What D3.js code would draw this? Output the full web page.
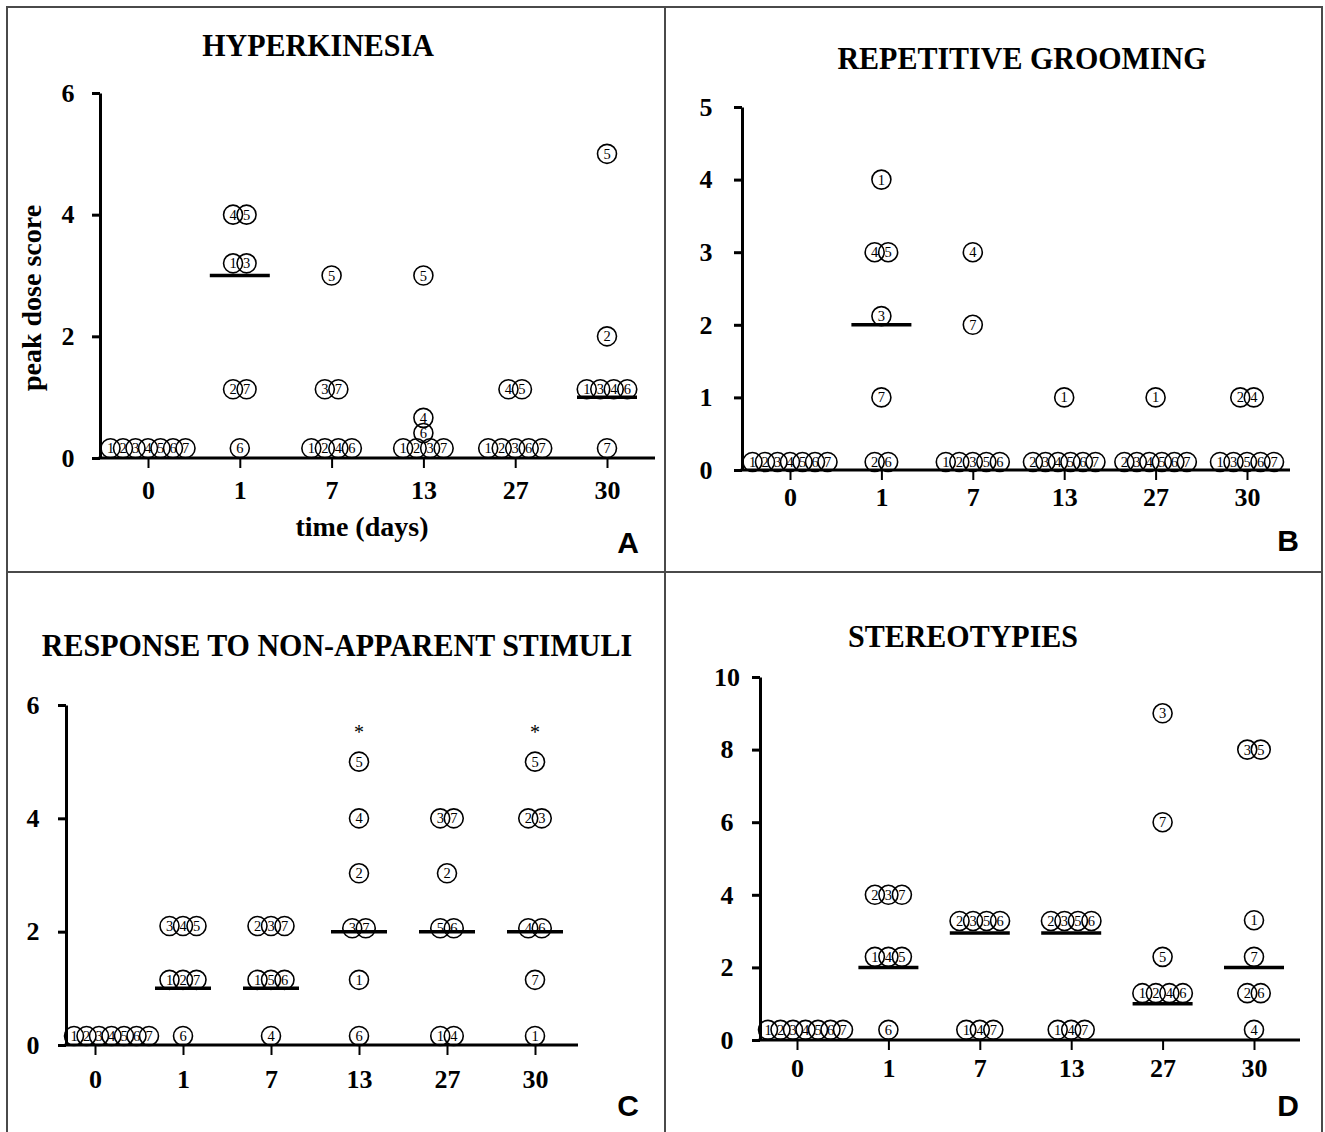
<!DOCTYPE html>
<html>
<head>
<meta charset="utf-8">
<script src="https://cdn.jsdelivr.net/npm/d3@7"></script>
<style>
  body { margin: 0; background: #fff; }
  svg { display: block; }
</style>
</head>
<body>
<svg width="1325" height="1132"></svg>
<script>
// days on the x axis, shared by all four panels
const days = ["0", "1", "7", "13", "27", "30"]

// circles: rat ids sitting at the same score, per day
const hyperPoints = [
  {day: "0", v: 0.16, ids: [1, 2, 3, 4, 5, 6, 7]},
  {day: "1", v: 4, ids: [4, 5]}, {day: "1", v: 3.2, ids: [1, 3]},
  {day: "1", v: 1.13, ids: [2, 7]}, {day: "1", v: 0.16, ids: [6]},
  {day: "7", v: 3, ids: [5]}, {day: "7", v: 1.13, ids: [3, 7]}, {day: "7", v: 0.16, ids: [1, 2, 4, 6]},
  {day: "13", v: 3, ids: [5]}, {day: "13", v: 0.66, ids: [4]}, {day: "13", v: 0.41, ids: [6]},
  {day: "13", v: 0.16, ids: [1, 2, 3, 7]},
  {day: "27", v: 1.13, ids: [4, 5]}, {day: "27", v: 0.16, ids: [1, 2, 3, 6, 7]},
  {day: "30", v: 5, ids: [5]}, {day: "30", v: 2, ids: [2]},
  {day: "30", v: 1.13, ids: [1, 3, 4, 6]}, {day: "30", v: 0.16, ids: [7]}
]
const hyperMedians = [{day: "1", v: 3}, {day: "30", v: 1}]

const groomPoints = [
  {day: "0", v: 0.11, ids: [1, 2, 3, 4, 5, 6, 7]},
  {day: "1", v: 4, ids: [1]}, {day: "1", v: 3, ids: [4, 5]}, {day: "1", v: 2.12, ids: [3]},
  {day: "1", v: 1, ids: [7]}, {day: "1", v: 0.11, ids: [2, 6]},
  {day: "7", v: 3, ids: [4]}, {day: "7", v: 2, ids: [7]}, {day: "7", v: 0.11, ids: [1, 2, 3, 5, 6]},
  {day: "13", v: 1, ids: [1]}, {day: "13", v: 0.11, ids: [2, 3, 4, 5, 6, 7]},
  {day: "27", v: 1, ids: [1]}, {day: "27", v: 0.11, ids: [2, 3, 4, 5, 6, 7]},
  {day: "30", v: 1, ids: [2, 4]}, {day: "30", v: 0.11, ids: [1, 3, 5, 6, 7]}
]
const groomMedians = [{day: "1", v: 2}]

const stimPoints = [
  {day: "0", v: 0.16, ids: [1, 2, 3, 4, 5, 6, 7]},
  {day: "1", v: 2.1, ids: [3, 4, 5]}, {day: "1", v: 1.15, ids: [1, 2, 7]}, {day: "1", v: 0.16, ids: [6]},
  {day: "7", v: 2.1, ids: [2, 3, 7]}, {day: "7", v: 1.15, ids: [1, 5, 6]}, {day: "7", v: 0.16, ids: [4]},
  {day: "13", v: 5, ids: [5]}, {day: "13", v: 4, ids: [4]}, {day: "13", v: 3.03, ids: [2]},
  {day: "13", v: 2.06, ids: [3, 7]}, {day: "13", v: 1.15, ids: [1]}, {day: "13", v: 0.16, ids: [6]},
  {day: "27", v: 4, ids: [3, 7]}, {day: "27", v: 3.03, ids: [2]}, {day: "27", v: 2.06, ids: [5, 6]},
  {day: "27", v: 0.16, ids: [1, 4]},
  {day: "30", v: 5, ids: [5]}, {day: "30", v: 4, ids: [2, 3]}, {day: "30", v: 2.06, ids: [4, 6]},
  {day: "30", v: 1.15, ids: [7]}, {day: "30", v: 0.16, ids: [1]}
]
const stimMedians = [{day: "1", v: 1}, {day: "7", v: 1}, {day: "13", v: 2}, {day: "27", v: 2}, {day: "30", v: 2}]
const stimStars = [{day: "13", v: 5.6}, {day: "30", v: 5.6}]

const stereoPoints = [
  {day: "0", v: 0.28, ids: [1, 2, 3, 4, 5, 6, 7]},
  {day: "1", v: 4, ids: [2, 3, 7]}, {day: "1", v: 2.29, ids: [1, 4, 5]}, {day: "1", v: 0.28, ids: [6]},
  {day: "7", v: 3.28, ids: [2, 3, 5, 6]}, {day: "7", v: 0.28, ids: [1, 4, 7]},
  {day: "13", v: 3.28, ids: [2, 3, 5, 6]}, {day: "13", v: 0.28, ids: [1, 4, 7]},
  {day: "27", v: 9, ids: [3]}, {day: "27", v: 6, ids: [7]}, {day: "27", v: 2.29, ids: [5]},
  {day: "27", v: 1.29, ids: [1, 2, 4, 6]},
  {day: "30", v: 8, ids: [3, 5]}, {day: "30", v: 3.3, ids: [1]}, {day: "30", v: 2.29, ids: [7]},
  {day: "30", v: 1.29, ids: [2, 6]}, {day: "30", v: 0.28, ids: [4]}
]
const stereoMedians = [{day: "1", v: 2}, {day: "7", v: 2.95}, {day: "13", v: 2.95}, {day: "27", v: 1}, {day: "30", v: 2}]

const serif = "'Liberation Serif', 'Times New Roman', serif"
const sans = "'Liberation Sans', Arial, sans-serif"

let svg = d3.select("svg")

// panel frame
svg.append("rect").attr("x", 7).attr("y", 7).attr("width", 1315).attr("height", 1140)
  .attr("fill", "none").attr("stroke", "#4a4a4a").attr("stroke-width", 2)
svg.append("line").attr("x1", 665).attr("x2", 665).attr("y1", 7).attr("y2", 1132)
  .attr("stroke", "#4a4a4a").attr("stroke-width", 2)
svg.append("line").attr("x1", 7).attr("x2", 1322).attr("y1", 572).attr("y2", 572)
  .attr("stroke", "#4a4a4a").attr("stroke-width", 2)

let r = 9.5

function panel(p) {
  let x = d3.scalePoint().domain(days).range([p.xFirst, p.xLast])
  let y = d3.scaleLinear().domain([0, p.yMax]).range([p.yBase, p.yTop])
  let g = svg.append("g")

  g.append("text")
    .attr("transform", "translate(" + p.titleX + "," + p.titleY + ") scale(1,1.08)")
    .attr("text-anchor", "middle")
    .attr("font-family", serif).attr("font-weight", "bold").attr("font-size", "30px")
    .text(p.title)

  // y axis
  let ya = g.append("g")
    .attr("transform", "translate(" + p.axisX + ",0)")
    .call(d3.axisLeft(y).tickValues(p.ticks).tickSize(8).tickSizeOuter(0).tickFormat(d3.format("d")))
  ya.select(".domain").attr("stroke-width", 3)
  ya.selectAll(".tick line").attr("stroke-width", 3)
  ya.selectAll(".tick text")
    .attr("x", -p.labelOff).attr("text-anchor", "middle")
    .attr("font-family", serif).attr("font-weight", "bold").attr("font-size", "26px")

  // x axis
  g.append("line")
    .attr("x1", p.axisX - 1.5).attr("x2", p.xEnd)
    .attr("y1", p.yBase).attr("y2", p.yBase)
    .attr("stroke", "black").attr("stroke-width", 3)
  let xa = g.append("g")
    .attr("transform", "translate(0," + p.yBase + ")")
    .call(d3.axisBottom(x).tickSize(10))
  xa.select(".domain").remove()
  xa.selectAll(".tick line").attr("stroke-width", 2)
  xa.selectAll(".tick text")
    .attr("y", p.xLabelDy).attr("dy", 0)
    .attr("font-family", serif).attr("font-weight", "bold").attr("font-size", "26px")

  // median bars
  g.selectAll(".med")
    .data(p.medians)
    .enter().append("line")
    .attr("x1", (d) => x(d.day) - p.medW / 2)
    .attr("x2", (d) => x(d.day) + p.medW / 2)
    .attr("y1", (d) => y(d.v)).attr("y2", (d) => y(d.v))
    .attr("stroke", "black").attr("stroke-width", 3.5)

  // circles, each group centred on its day but kept right of the y axis
  let circ = []
  p.points.forEach((d) => {
    let n = d.ids.length
    let step = n >= 6 ? 12.5 : 13.5
    let start = x(d.day) - (n - 1) / 2 * step
    start = Math.max(start, p.axisX + r - 1.5)
    d.ids.forEach((id, i) => {
      circ.push({id: id, cx: start + i * step, cy: y(d.v)})
    })
  })
  let c = g.selectAll(".pt")
    .data(circ)
    .enter().append("g")
    .attr("transform", (d) => "translate(" + d.cx + "," + d.cy + ")")
  c.append("circle").attr("r", r)
    .attr("fill", "none").attr("stroke", "black").attr("stroke-width", 1.6)
  c.append("text")
    .attr("text-anchor", "middle").attr("dy", "0.35em")
    .attr("font-family", serif).attr("font-size", "14.5px")
    .text((d) => d.id)

  if (p.stars) {
    g.selectAll(".star")
      .data(p.stars)
      .enter().append("text")
      .attr("x", (d) => x(d.day)).attr("y", (d) => y(d.v))
      .attr("dy", "0.55em")
      .attr("text-anchor", "middle")
      .attr("font-family", serif).attr("font-size", "20px")
      .text("*")
  }

  g.append("text")
    .attr("x", p.letterX).attr("y", p.letterY)
    .attr("text-anchor", "middle")
    .attr("font-family", sans).attr("font-weight", "bold").attr("font-size", "30px")
    .text(p.letter)

  return g
}

let gA = panel({
  title: "HYPERKINESIA", titleX: 318, titleY: 56,
  axisX: 100, xEnd: 655, yTop: 93, yBase: 458, xFirst: 148, xLast: 607,
  yMax: 6, ticks: [0, 2, 4, 6], labelOff: 32, xLabelDy: 41, medW: 60,
  points: hyperPoints, medians: hyperMedians,
  letter: "A", letterX: 628, letterY: 553
})
gA.append("text")
  .attr("x", 362).attr("y", 536)
  .attr("text-anchor", "middle")
  .attr("font-family", serif).attr("font-weight", "bold").attr("font-size", "28px")
  .text("time (days)")
gA.append("text")
  .attr("transform", "translate(41,298) rotate(-90)")
  .attr("text-anchor", "middle")
  .attr("font-family", serif).attr("font-weight", "bold").attr("font-size", "28px")
  .text("peak dose score")

panel({
  title: "REPETITIVE GROOMING", titleX: 1022, titleY: 69,
  axisX: 742, xEnd: 1290, yTop: 107, yBase: 470, xFirst: 790, xLast: 1247,
  yMax: 5, ticks: [0, 1, 2, 3, 4, 5], labelOff: 36, xLabelDy: 36, medW: 60,
  points: groomPoints, medians: groomMedians,
  letter: "B", letterX: 1288, letterY: 551
})

panel({
  title: "RESPONSE TO NON-APPARENT STIMULI", titleX: 337, titleY: 656,
  axisX: 66, xEnd: 578, yTop: 705, yBase: 1045, xFirst: 95, xLast: 535,
  yMax: 6, ticks: [0, 2, 4, 6], labelOff: 33, xLabelDy: 43, medW: 56,
  points: stimPoints, medians: stimMedians, stars: stimStars,
  letter: "C", letterX: 628, letterY: 1116
})

panel({
  title: "STEREOTYPIES", titleX: 963, titleY: 647,
  axisX: 760, xEnd: 1300, yTop: 677, yBase: 1040, xFirst: 797, xLast: 1254,
  yMax: 10, ticks: [0, 2, 4, 6, 8, 10], labelOff: 33, xLabelDy: 37, medW: 60,
  points: stereoPoints, medians: stereoMedians,
  letter: "D", letterX: 1288, letterY: 1116
})
</script>
</body>
</html>
